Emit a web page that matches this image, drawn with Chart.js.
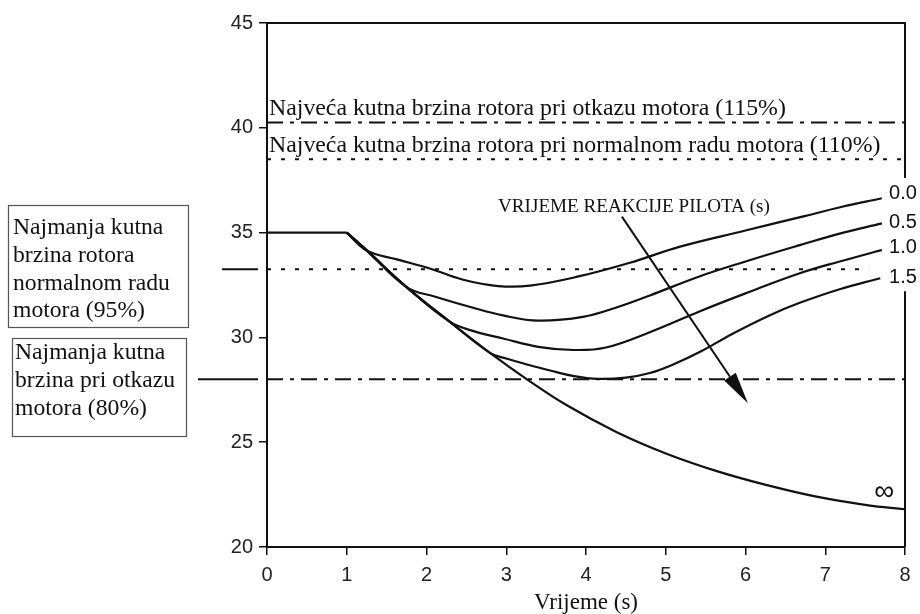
<!DOCTYPE html>
<html>
<head>
<meta charset="utf-8">
<script src="https://cdn.jsdelivr.net/npm/chart.js@4.4.1/dist/chart.umd.min.js"></script>
<style>
  html, body { margin: 0; padding: 0; background: #fff; }
</style>
</head>
<body>
<canvas id="rotorChart" width="920" height="614"></canvas>
<script>
// values (x = time in s, y = rotor speed)
const flatX = [0, 1];
const flatY = [35, 35];

const infX = [1, 1.25, 1.75, 2.29, 2.8, 3.26, 3.76, 4.38, 5.01, 5.64, 6.27, 6.89, 7.52, 8];
const infY = [35, 34.15, 32.4, 30.75, 29.25, 28.0, 26.76, 25.49, 24.45, 23.62, 22.95, 22.4, 22.0, 21.8];

const r00X = [1, 1.25, 1.63, 2.04, 2.46, 2.9, 3.3, 3.92, 4.55, 5.18, 6.0, 6.7, 7.2, 7.71];
const r00Y = [35, 34.15, 33.72, 33.29, 32.75, 32.45, 32.47, 32.92, 33.56, 34.33, 35.1, 35.75, 36.22, 36.64];

const r05X = [1, 1.25, 1.75, 2.1, 2.55, 2.96, 3.4, 3.96, 4.4, 4.8, 5.43, 6.0, 6.68, 7.18, 7.71];
const r05Y = [35, 34.15, 32.4, 31.95, 31.45, 31.05, 30.8, 30.98, 31.45, 32.0, 32.92, 33.62, 34.4, 34.95, 35.44];

const r10X = [1, 1.25, 1.75, 2.29, 2.59, 2.96, 3.4, 3.84, 4.25, 4.8, 5.43, 6.0, 6.68, 7.18, 7.71];
const r10Y = [35, 34.15, 32.4, 30.75, 30.3, 29.95, 29.55, 29.4, 29.52, 30.25, 31.25, 32.1, 33.06, 33.62, 34.17];

const r15X = [1, 1.25, 1.75, 2.29, 2.8, 3.0, 3.26, 3.55, 3.85, 4.15, 4.5, 4.8, 5.1, 5.45, 5.85, 6.3, 6.68, 7.18, 7.69];
const r15Y = [35, 34.15, 32.4, 30.75, 29.25, 28.99, 28.71, 28.42, 28.15, 28.02, 28.08, 28.3, 28.72, 29.35, 30.2, 31.05, 31.65, 32.3, 32.82];

// limit lines
const limitNames = ['115%', '110%', '95%', '80%'];
const limitValues = [40.25, 38.5, 33.25, 28];
const limitEnds = [8, 8, 7.55, 8];

const curveLabels = ['0.0', '0.5', '1.0', '1.5'];
const curveLabelY = [36.89, 35.46, 34.27, 32.88];

const xTicks = [0, 1, 2, 3, 4, 5, 6, 7, 8];
const yTicks = [20, 25, 30, 35, 40, 45];

const ink = '#111';
const serif = '"Liberation Serif", "Times New Roman", serif';
const sans = '"Liberation Sans", Arial, sans-serif';

const pts = (xs, ys) => xs.map((v, i) => ({ x: v, y: ys[i] }));

const curve = (label, xs, ys) => ({
  label: label,
  data: pts(xs, ys),
  borderColor: ink,
  borderWidth: 2.2,
  pointRadius: 0,
  tension: 0.4,
  fill: false
});

const dashes = [[16, 7, 4, 7], [4, 10], [4, 10], [16, 7, 4, 7]];
const limitSets = limitValues.map((v, i) => ({
  label: limitNames[i],
  data: [{ x: 0, y: v }, { x: limitEnds[i], y: v }],
  borderColor: ink,
  borderWidth: 2,
  borderDash: dashes[i],
  pointRadius: 0,
  fill: false
}));

// measure a string so it spans a given pixel width
const measurer = document.createElement('canvas').getContext('2d');
function fitSize(text, family, width) {
  measurer.font = '100px ' + family;
  return 100 * width / measurer.measureText(text).width;
}

const topLine1 = 'Najveća kutna brzina rotora pri otkazu motora (115%)';
const topLine2 = 'Najveća kutna brzina rotora pri normalnom radu motora (110%)';
const box1Lines = ['Najmanja kutna', 'brzina rotora', 'normalnom radu', 'motora (95%)'];
const box2Lines = ['Najmanja kutna', 'brzina pri otkazu', 'motora (80%)'];
const reactionText = 'VRIJEME REAKCIJE PILOTA (s)';

const topSize = fitSize(topLine1, serif, 517);
const boxSize = fitSize('normalnom radu', serif, 157);
const reactSize = fitSize(reactionText, serif, 272);

const decor = {
  id: 'decor',
  afterDraw(chart) {
    const { ctx, chartArea: a, scales: { x, y } } = chart;
    const px = v => x.getPixelForValue(v);
    const py = v => y.getPixelForValue(v);
    ctx.save();

    // top and right side of the frame; right side is broken for the labels
    ctx.strokeStyle = ink;
    ctx.lineWidth = 2;
    ctx.beginPath();
    ctx.moveTo(a.left, a.top);
    ctx.lineTo(a.right, a.top);
    ctx.lineTo(a.right, py(37.6));
    ctx.moveTo(a.right, py(32.2));
    ctx.lineTo(a.right, a.bottom);
    ctx.stroke();

    // short lines pointing at the lower limits
    ctx.beginPath();
    ctx.moveTo(222, py(33.25)); ctx.lineTo(258, py(33.25));
    ctx.moveTo(198, py(28)); ctx.lineTo(258, py(28));
    ctx.stroke();

    // boxes on the left
    ctx.strokeStyle = '#555';
    ctx.lineWidth = 1.2;
    ctx.strokeRect(8.5, 205.5, 180, 122);
    ctx.strokeRect(12.5, 338.5, 174, 98);

    ctx.fillStyle = ink;
    ctx.textAlign = 'left';
    ctx.textBaseline = 'middle';
    ctx.font = boxSize + 'px ' + serif;
    box1Lines.forEach((t, i) => ctx.fillText(t, 13, 228 + i * 27.7));
    box2Lines.forEach((t, i) => ctx.fillText(t, 15, 353 + i * 28));

    // texts for the upper limits
    ctx.textBaseline = 'alphabetic';
    ctx.font = topSize + 'px ' + serif;
    ctx.fillText(topLine1, px(0.025), py(40.6));
    ctx.fillText(topLine2, px(0.025), py(38.85));

    // reaction time note and arrow
    ctx.font = reactSize + 'px ' + serif;
    ctx.fillText(reactionText, px(2.897), py(35.98));

    const x0 = px(4.45), y0 = py(35.76), x1 = px(6.03), y1 = py(26.86);
    const ang = Math.atan2(y1 - y0, x1 - x0);
    const headLen = 32, headHalf = 7;
    const bx = x1 - headLen * Math.cos(ang), by = y1 - headLen * Math.sin(ang);
    ctx.strokeStyle = ink;
    ctx.lineWidth = 2;
    ctx.beginPath();
    ctx.moveTo(x0, y0);
    ctx.lineTo(bx, by);
    ctx.stroke();
    ctx.beginPath();
    ctx.moveTo(x1, y1);
    ctx.lineTo(bx + headHalf * Math.sin(ang), by - headHalf * Math.cos(ang));
    ctx.lineTo(bx - headHalf * Math.sin(ang), by + headHalf * Math.cos(ang));
    ctx.closePath();
    ctx.fill();

    // curve labels
    ctx.font = '20px ' + sans;
    ctx.textBaseline = 'middle';
    curveLabels.forEach((t, i) => ctx.fillText(t, px(7.8), py(curveLabelY[i])));
    ctx.font = '28px ' + sans;
    ctx.textAlign = 'center';
    ctx.fillText('∞', px(7.74), py(22.6));

    ctx.restore();
  }
};

const ctx = document.getElementById('rotorChart').getContext('2d');
const rotorChart = new Chart(ctx, {
  type: 'line',
  data: {
    datasets: [
      curve('flat', flatX, flatY),
      curve('∞', infX, infY),
      curve('0.0', r00X, r00Y),
      curve('0.5', r05X, r05Y),
      curve('1.0', r10X, r10Y),
      curve('1.5', r15X, r15Y),
      ...limitSets
    ]
  },
  options: {
    responsive: false,
    animation: false,
    layout: { padding: { top: 23, right: 15, left: 0, bottom: 0 } },
    plugins: {
      legend: { display: false },
      tooltip: { enabled: false }
    },
    scales: {
      x: {
        type: 'linear',
        min: 0,
        max: 8,
        afterBuildTicks: s => { s.ticks = xTicks.map(v => ({ value: v })); },
        afterFit: s => { s.height = 67; },
        ticks: { color: '#222', font: { family: sans, size: 20 }, padding: 8 },
        grid: { drawOnChartArea: false, drawTicks: true, tickLength: 8, color: ink, lineWidth: 1.5 },
        border: { display: true, color: ink, width: 2 },
        title: {
          display: true,
          text: 'Vrijeme (s)',
          color: ink,
          font: { family: serif, size: 23, lineHeight: 1.0 },
          padding: { top: 0, bottom: 0 }
        }
      },
      y: {
        type: 'linear',
        min: 20,
        max: 45,
        afterBuildTicks: s => { s.ticks = yTicks.map(v => ({ value: v })); },
        afterFit: s => { s.width = 267; },
        ticks: { color: '#222', font: { family: sans, size: 20 }, padding: 6 },
        grid: { drawOnChartArea: false, drawTicks: true, tickLength: 8, color: ink, lineWidth: 1.5 },
        border: { display: true, color: ink, width: 2 }
      }
    }
  },
  plugins: [decor]
});
</script>
</body>
</html>
